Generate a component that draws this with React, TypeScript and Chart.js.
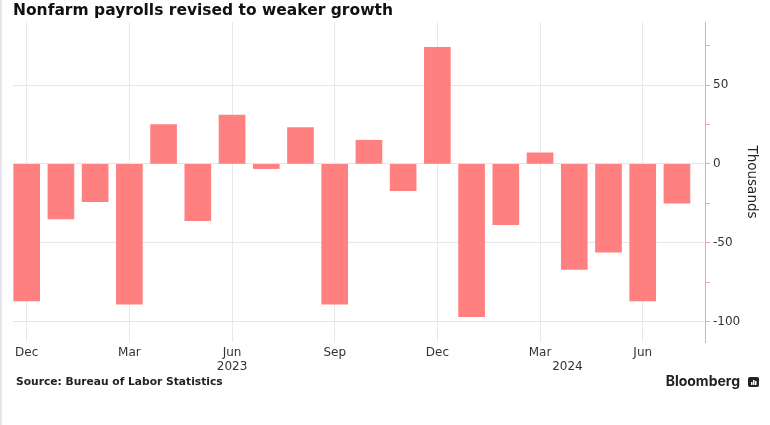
import React, { useEffect, useRef } from "react";
import { Chart, registerables } from "chart.js";

Chart.register(...registerables);

// Monthly revisions, Dec 2022 .. Jul 2024 (thousands)
const months = [
  "Dec", "Jan", "Feb", "Mar", "Apr", "May", "Jun", "Jul", "Aug", "Sep", "Oct", "Nov",
  "Dec", "Jan", "Feb", "Mar", "Apr", "May", "Jun", "Jul",
];
const revisions = [
  -87, -35, -24, -89, 25, -36, 31, -3, 23, -89, 15, -17,
  74, -97, -38.5, 7, -67, -56, -87, -25,
];
const xTickIndexes = [0, 3, 6, 9, 12, 15, 18];
const yearLabels = ["2023", "2024"];
const yearPositions = [6, 15.8];
const yTicks = [-100, -75, -50, -25, 0, 25, 50, 75];

const FONT = "'DejaVu Sans', sans-serif";
const BAR = "#ff8080";
const AXIS_PINK = "#f5a3a3";

export default function App() {
  const ref = useRef<HTMLCanvasElement | null>(null);

  useEffect(() => {
    if (!ref.current) return;
    const yearPlugin = {
      id: "yearLabels",
      afterDraw(chart: any) {
        const { ctx, chartArea } = chart;
        const xs = chart.scales.x;
        ctx.save();
        ctx.font = `12px ${FONT}`;
        ctx.fillStyle = "#333";
        ctx.textAlign = "center";
        ctx.textBaseline = "middle";
        yearLabels.forEach((l, i) => {
          ctx.fillText(l, xs.getPixelForValue(yearPositions[i]), chartArea.bottom + 25);
        });
        ctx.restore();
      },
    };
    const chart = new Chart(ref.current, {
      type: "bar",
      data: {
        datasets: [
          {
            data: revisions.map((v, i) => ({ x: i, y: v })),
            backgroundColor: BAR,
            borderWidth: 0,
            barThickness: 26,
          },
        ],
      },
      options: {
        animation: false,
        responsive: false,
        layout: { padding: { left: 13, top: 22, right: 0, bottom: 0 } },
        plugins: { legend: { display: false }, tooltip: { enabled: false } },
        scales: {
          x: {
            type: "linear",
            offset: false,
            min: -0.4,
            max: 19.82,
            afterBuildTicks: (axis: any) => {
              axis.ticks = xTickIndexes.map((v) => ({ value: v }));
            },
            afterFit: (axis: any) => {
              axis.height = 83;
            },
            ticks: {
              callback: (v: any) => months[v] ?? "",
              font: { family: FONT, size: 12 },
              color: "#333",
              padding: 4,
              maxRotation: 0,
              autoSkip: false,
            },
            grid: { color: "#e9e9e9", drawTicks: false, offset: false },
            border: { display: false },
          },
          y: {
            position: "right",
            min: -113,
            max: 90,
            afterBuildTicks: (axis: any) => {
              axis.ticks = yTicks.map((v) => ({ value: v }));
            },
            afterFit: (axis: any) => {
              axis.width = 65;
            },
            ticks: {
              callback: (v: any) => (v % 50 === 0 ? String(v) : ""),
              font: { family: FONT, size: 12 },
              color: "#333",
              padding: 3,
            },
            grid: {
              color: (c: any) =>
                c.tick && c.tick.value % 50 === 0 ? "#e6e6e6" : "rgba(0,0,0,0)",
              tickColor: AXIS_PINK,
              tickLength: 5,
            },
            border: { color: AXIS_PINK, width: 1 },
            title: {
              display: true,
              text: "Thousands",
              font: { family: FONT, size: 13.5 },
              color: "#222",
              padding: { top: 10, bottom: 0 },
            },
          },
        },
      },
      plugins: [yearPlugin],
    } as any);
    return () => chart.destroy();
  }, []);

  return (
    <div
      style={{
        position: "absolute",
        left: 0,
        top: 0,
        width: 770,
        height: 425,
        background: "#fff",
        overflow: "hidden",
      }}
    >
      <div
        style={{
          position: "absolute",
          left: 0,
          top: 0,
          width: 2,
          height: 425,
          background: "#e4e4ea",
        }}
      />
      <canvas ref={ref} width={770} height={425} style={{ position: "absolute", left: 0, top: 0 }} />
      <div
        style={{
          position: "absolute",
          left: 13,
          top: 1,
          font: `bold 15.5px ${FONT}`,
          color: "#111",
          whiteSpace: "nowrap",
        }}
      >
        Nonfarm payrolls revised to weaker growth
      </div>
      <div
        style={{
          position: "absolute",
          left: 16,
          top: 375,
          font: `bold 10.7px ${FONT}`,
          color: "#222",
          whiteSpace: "nowrap",
        }}
      >
        Source: Bureau of Labor Statistics
      </div>
      <div
        style={{
          position: "absolute",
          right: 30,
          top: 372,
          font: `bold 14px Inter, sans-serif`,
          color: "#222",
          whiteSpace: "nowrap",
        }}
      >
        Bloomberg
      </div>
      <svg
        width={11}
        height={11}
        viewBox="0 0 11 11"
        style={{ position: "absolute", left: 748, top: 377 }}
      >
        <rect x={0} y={0} width={11} height={10} rx={2} fill="#222" />
        <rect x={3} y={5} width={1.5} height={3} fill="#fff" />
        <rect x={5} y={3} width={1.5} height={5} fill="#fff" />
        <rect x={7} y={4} width={1.5} height={4} fill="#fff" />
      </svg>
    </div>
  );
}
